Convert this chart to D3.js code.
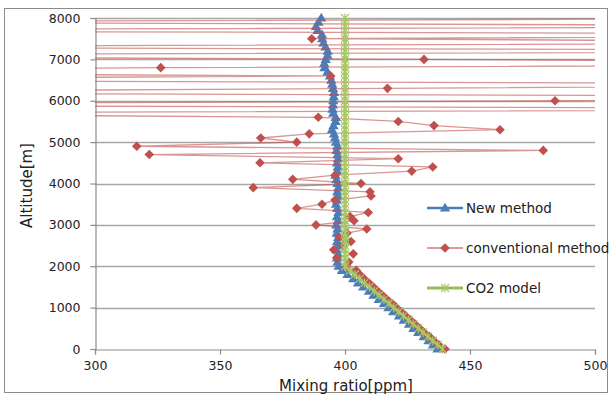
<!DOCTYPE html>
<html><head><meta charset="utf-8">
<script src="https://cdn.jsdelivr.net/npm/d3@7"></script>
<style>
body{margin:0;background:#fff}
svg{display:block}
text{font-family:"DejaVu Sans",sans-serif;fill:#222}
</style>
</head><body>
<svg id="chart" width="612" height="398"></svg>
<script>
// Sampling altitudes [m]
const altitudes = [
  0,100,200,300,400,500,600,700,800,900,
  1000,1100,1200,1300,1400,1500,1600,1700,1800,1900,
  2000,2100,2200,2300,2400,2500,2600,2700,2800,2900,
  3000,3100,3200,3300,3400,3500,3600,3700,3800,3900,
  4000,4100,4200,4300,4400,4500,4600,4700,4800,4900,
  5000,5100,5200,5300,5400,5500,5600,5700,5800,5900,
  6000,6100,6200,6300,6400,6500,6600,6700,6800,6900,
  7000,7100,7200,7300,7400,7500,7600,7700,7800,7900,
  8000
];

// CO2 mixing ratio [ppm], new retrieval method
const newMethod = [
  437.0,435.2,433.4,431.5,429.3,427.4,425.6,423.5,421.6,419.3,
  417.4,415.6,413.5,411.4,409.6,407.3,405.2,403.3,401.0,398.8,
  397.5,397.0,396.8,397.2,396.6,397.0,396.9,397.3,396.7,397.0,
  396.5,397.1,396.8,397.4,396.9,396.4,396.8,397.2,396.9,397.3,
  397.0,396.6,396.2,396.9,397.1,396.8,397.2,397.0,396.6,396.9,
  396.4,396.0,395.6,394.8,395.4,396.2,396.3,395.3,395.0,395.2,
  395.3,395.5,395.6,395.2,394.9,394.5,394.0,393.0,391.8,391.7,
  392.3,393.0,393.1,392.2,391.4,390.9,390.8,389.0,388.4,389.4,
  390.5
];

// CO2 mixing ratio [ppm], conventional method (upper levels run far off scale)
const conventional = [
  440.0,437.5,435.6,433.8,431.7,429.9,428.0,426.2,424.3,422.5,
  420.6,418.9,416.8,415.0,413.1,411.4,409.5,407.6,405.9,404.5,
  400.7,401.5,396.7,403.3,395.5,399.2,402.4,397.6,400.8,408.7,
  388.4,403.6,402.0,409.3,380.7,390.8,396.0,410.4,410.0,363.3,
  406.4,379.1,396.0,426.7,435.1,366.0,421.3,321.7,479.3,316.7,
  380.7,366.3,385.7,462.0,435.6,421.3,389.3,150.0,720.0,90.0,
  484.0,650.0,130.0,417.0,700.0,100.0,394.3,60.0,326.3,760.0,
  431.6,40.0,780.0,110.0,690.0,386.7,730.0,80.0,700.0,160.0,
  640.0
];

// CO2 mixing ratio [ppm], model profile
const co2Model = [
  439.0,437.1,435.1,433.2,431.2,429.3,427.3,425.4,423.4,421.5,
  419.5,417.6,415.6,413.7,411.7,409.8,407.8,405.9,403.9,402.0,
  400.0,400.0,400.0,400.0,400.0,400.0,400.0,400.0,400.0,400.0,
  400.0,400.0,400.0,400.0,400.0,400.0,400.0,400.0,400.0,400.0,
  400.0,400.0,400.0,400.0,400.0,400.0,400.0,400.0,400.0,400.0,
  400.0,400.0,400.0,400.0,400.0,400.0,400.0,400.0,400.0,400.0,
  400.0,400.0,400.0,400.0,400.0,400.0,400.0,400.0,400.0,400.0,
  400.0,400.0,400.0,400.0,400.0,400.0,400.0,400.0,400.0,400.0,
  400.0
];

const xTicks = [300, 350, 400, 450, 500];
const yTicks = [0, 1000, 2000, 3000, 4000, 5000, 6000, 7000, 8000];
const seriesNames = ["New method", "conventional method", "CO2 model"];
const seriesColors = ["#4a7ebb", "#c0504d", "#9bbb59"];

const svg = d3.select("#chart");
const plot = {left: 95, right: 595, top: 18, bottom: 349};

const x = d3.scaleLinear().domain([300, 500]).range([plot.left, plot.right]);
const y = d3.scaleLinear().domain([0, 8000]).range([plot.bottom, plot.top]);

// chart frame
svg.append("rect").attr("x", 4.5).attr("y", 8.5).attr("width", 603).attr("height", 384)
  .attr("fill", "#fff").attr("stroke", "#8c8c8c").attr("stroke-width", 1);

svg.append("defs").append("clipPath").attr("id", "plotClip")
  .append("rect").attr("x", plot.left).attr("y", plot.top)
  .attr("width", plot.right - plot.left).attr("height", plot.bottom - plot.top);

// horizontal gridlines
svg.append("g").selectAll("line").data(yTicks.filter(t => t > 0)).join("line")
  .attr("x1", plot.left).attr("x2", plot.right)
  .attr("y1", d => Math.round(y(d)) + 0.5).attr("y2", d => Math.round(y(d)) + 0.5)
  .attr("stroke", "#a6a6a6").attr("stroke-width", 1.3);

// axes
const yAxis = svg.append("g").attr("transform", `translate(${plot.left + 0.5},0)`)
  .call(d3.axisLeft(y).tickValues(yTicks).tickSize(5).tickPadding(10).tickFormat(d3.format("d")));
const xAxis = svg.append("g").attr("transform", `translate(0,${plot.bottom + 0.5})`)
  .call(d3.axisBottom(x).tickValues(xTicks).tickSize(5).tickPadding(7).tickFormat(d3.format("d")));
[yAxis, xAxis].forEach(a => {
  a.select(".domain").attr("stroke", "#8c8c8c").attr("stroke-width", 1.2);
  a.selectAll(".tick line").attr("stroke", "#8c8c8c").attr("stroke-width", 1.2);
  a.selectAll(".tick text").attr("font-size", 12.5).attr("font-family", "DejaVu Sans")
    .attr("fill", "#222");
});

// axis titles
svg.append("text").attr("transform", `translate(32,${(plot.top + plot.bottom) / 2 + 2}) rotate(-90)`)
  .attr("text-anchor", "middle").attr("font-size", 15).text("Altitude[m]");
svg.append("text").attr("x", 346).attr("y", 391)
  .attr("text-anchor", "middle").attr("font-size", 15).text("Mixing ratio[ppm]");

const rows = s => altitudes.map((a, i) => ({alt: a, v: s[i]}));
const line = d3.line().x(d => x(d.v)).y(d => y(d.alt));
const inside = d => d.v >= 300 && d.v <= 500;

const triPath = "M0,-5.2L5.2,3.6L-5.2,3.6Z";
const diaPath = "M0,-4.8L4.8,0L0,4.8L-4.8,0Z";
const starPath = "M-4,-4L4,4M-4,4L4,-4M0,-4.6L0,4.6";

// New method
const blue = rows(newMethod);
svg.append("g").attr("clip-path", "url(#plotClip)").append("path").datum(blue).attr("d", line)
  .attr("fill", "none").attr("stroke", seriesColors[0]).attr("stroke-width", 2.5);
svg.append("g").selectAll("path").data(blue.filter(inside)).join("path")
  .attr("transform", d => `translate(${x(d.v)},${y(d.alt)})`)
  .attr("d", triPath).attr("fill", seriesColors[0]);

// conventional method
const red = rows(conventional);
svg.append("g").attr("clip-path", "url(#plotClip)").append("path").datum(red).attr("d", line)
  .attr("fill", "none").attr("stroke", seriesColors[1]).attr("stroke-width", 1.3)
  .attr("stroke-opacity", 0.6);
svg.append("g").selectAll("path").data(red.filter(inside)).join("path")
  .attr("transform", d => `translate(${x(d.v)},${y(d.alt)})`)
  .attr("d", diaPath).attr("fill", seriesColors[1]);

// CO2 model
const green = rows(co2Model);
svg.append("g").attr("clip-path", "url(#plotClip)").append("path").datum(green).attr("d", line)
  .attr("fill", "none").attr("stroke", seriesColors[2]).attr("stroke-width", 3);
svg.append("g").selectAll("path").data(green.filter(inside)).join("path")
  .attr("transform", d => `translate(${x(d.v)},${y(d.alt)})`)
  .attr("d", starPath).attr("fill", "none").attr("stroke", "#aac86a").attr("stroke-width", 1.2);

// legend
const legendY = [208, 248, 288];
const lg = svg.append("g");
seriesNames.forEach((name, i) => {
  const g = lg.append("g").attr("transform", `translate(0,${legendY[i]})`);
  g.append("line").attr("x1", 427).attr("x2", 463).attr("y1", 0).attr("y2", 0)
    .attr("stroke", seriesColors[i])
    .attr("stroke-width", i === 1 ? 1.3 : (i === 0 ? 2.5 : 3))
    .attr("stroke-opacity", i === 1 ? 0.75 : 1);
  const m = g.append("path").attr("transform", "translate(445,0)");
  if (i === 0) m.attr("d", triPath).attr("fill", seriesColors[0]);
  if (i === 1) m.attr("d", diaPath).attr("fill", seriesColors[1]);
  if (i === 2) m.attr("d", starPath).attr("fill", "none").attr("stroke", "#aac86a").attr("stroke-width", 1.2);
  g.append("text").attr("x", 466).attr("y", 5).attr("font-size", 13.5).text(name);
});
</script>
</body></html>
